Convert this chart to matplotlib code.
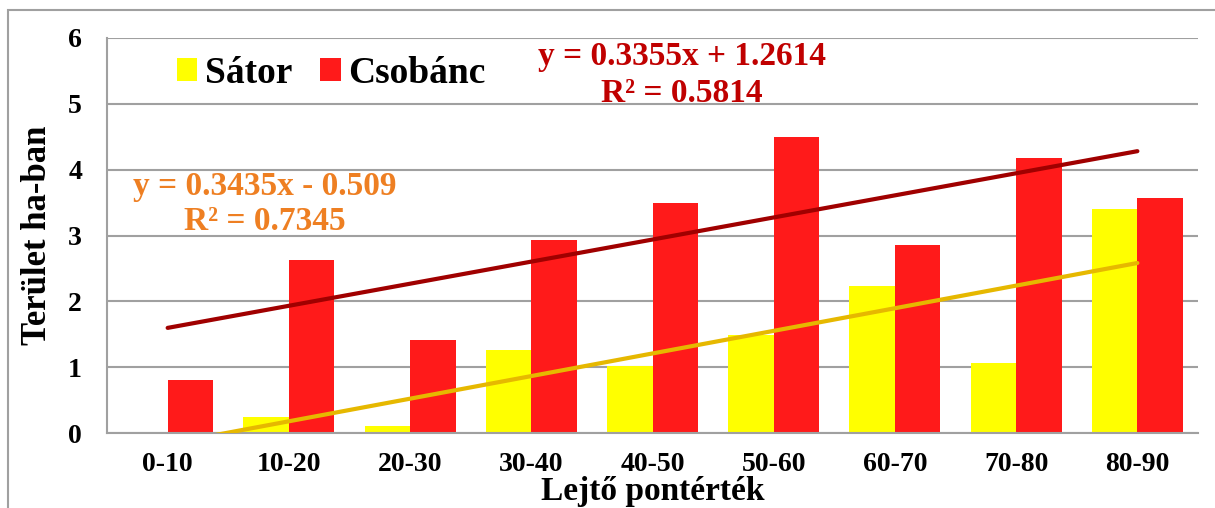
import matplotlib
matplotlib.use("Agg")
import matplotlib.pyplot as plt
import numpy as np
from matplotlib.patches import Rectangle

categories = ["0-10", "10-20", "20-30", "30-40", "40-50", "50-60", "60-70", "70-80", "80-90"]
sator = [0.0, 0.24, 0.10, 1.26, 1.02, 1.49, 2.23, 1.07, 3.41]
csobanc = [0.80, 2.63, 1.41, 2.93, 3.49, 4.49, 2.85, 4.17, 3.57]
sator_fit = (0.3435, -0.509)
csobanc_fit = (0.3355, 1.2614)
yticks = [0, 1, 2, 3, 4, 5, 6]

FONT = ["Liberation Serif", "DejaVu Serif"]
plt.rcParams["font.family"] = FONT
plt.rcParams["font.weight"] = "bold"

fig = plt.figure(figsize=(12.15, 5.08), dpi=100)
ax = fig.add_axes([0.0881, 0.1476, 0.8979, 0.7776])

x = np.arange(len(categories))
w = 0.375
ax.bar(x - w / 2, sator, w, color="#FFFF00", label="Sátor", zorder=2)
ax.bar(x + w / 2, csobanc, w, color="#FF1A1A", label="Csobánc", zorder=2)

xs = np.array([x[0], x[-1]])
ax.plot(xs, csobanc_fit[0] * (xs + 1) + csobanc_fit[1], color="#A00000", lw=3, zorder=3,
        solid_capstyle="round")
ax.plot(xs, sator_fit[0] * (xs + 1) + sator_fit[1], color="#E6B800", lw=3, zorder=3,
        solid_capstyle="round")

ax.set_xlim(-0.5, len(categories) - 0.5)
ax.set_ylim(0, 6)
ax.set_yticks(yticks)
ax.set_xticks(x)
ax.set_xticklabels(categories)
ax.yaxis.grid(True, color="#A0A0A0", lw=1.5, zorder=0)
ax.set_axisbelow(True)
for s in ["top", "right"]:
    ax.spines[s].set_visible(False)
ax.spines["left"].set_color("#A0A0A0")
ax.spines["bottom"].set_color("#A0A0A0")
ax.spines["left"].set_linewidth(1.5)
ax.spines["bottom"].set_linewidth(1.5)
ax.tick_params(axis="both", length=0, labelsize=20)
ax.tick_params(axis="y", pad=18)
ax.tick_params(axis="x", pad=14)

ax.set_ylabel("Terület ha-ban", fontsize=25, fontweight="bold", labelpad=10)
ax.set_xlabel("Lejtő pontérték", fontsize=24, fontweight="bold", labelpad=-1)

ax.legend(loc="center left", bbox_to_anchor=(0.064, 0.911), ncol=2, frameon=False,
          borderaxespad=0, borderpad=0,
          prop={"size": 27, "weight": "bold"}, handlelength=0.55, handleheight=0.55,
          handletextpad=0.2, columnspacing=0.75)

ax.text(4.24, 5.72, "y = 0.3355x + 1.2614", color="#C00000", fontsize=24,
        fontweight="bold", ha="center", va="center")
ax.text(4.24, 5.15, "R² = 0.5814", color="#C00000", fontsize=24,
        fontweight="bold", ha="center", va="center")
ax.text(0.80, 3.75, "y = 0.3435x - 0.509", color="#EE7F22", fontsize=24,
        fontweight="bold", ha="center", va="center")
ax.text(0.80, 3.22, "R² = 0.7345", color="#EE7F22", fontsize=24,
        fontweight="bold", ha="center", va="center")

fig.patches.append(Rectangle((8 / 1215, -0.1), 1.2, 1.0 - 10 / 508 + 0.1,
                             transform=fig.transFigure, fill=False,
                             edgecolor="#A0A0A0", lw=1.5))

fig.savefig("out.png", dpi=100)
